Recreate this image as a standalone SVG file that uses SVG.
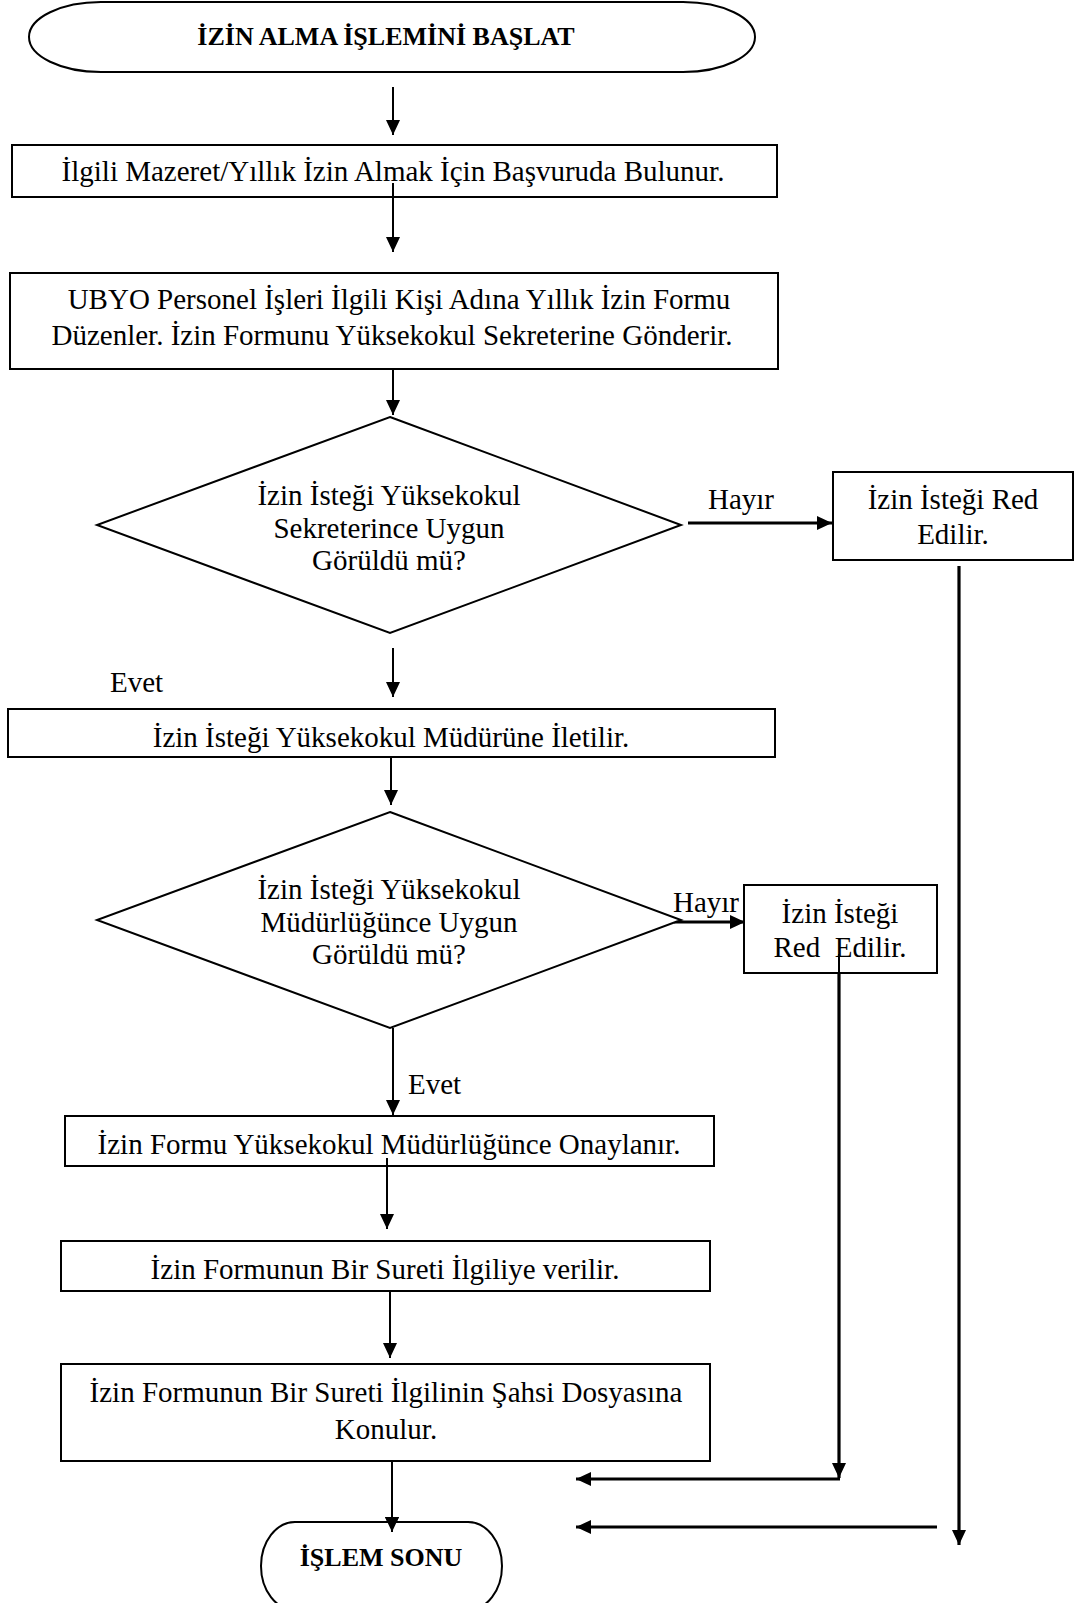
<svg xmlns="http://www.w3.org/2000/svg" width="1083" height="1603" viewBox="0 0 1083 1603">
  <style>
    .shape { fill: #fff; stroke: #000; stroke-width: 2; }
    .txt { font-family: "Liberation Serif", "Times New Roman", serif; font-size: 29px; fill: #000; text-anchor: middle; }
    .lbl { font-family: "Liberation Serif", "Times New Roman", serif; font-size: 29px; fill: #000; }
    .bold { font-family: "Liberation Serif", "Times New Roman", serif; font-size: 26px; font-weight: bold; fill: #000; text-anchor: middle; }
    .conn { fill: none; stroke: #000; stroke-width: 2; marker-end: url(#arrow); }
    .thick { fill: none; stroke: #000; stroke-width: 3.2; marker-end: url(#arrow); }
    .plain { fill: none; stroke: #000; stroke-width: 2; }
  </style>
  <defs>
    <marker id="arrow" markerUnits="userSpaceOnUse" markerWidth="16" markerHeight="14" refX="15" refY="7" orient="auto">
      <path d="M0,0 L15,7 L0,14 z" fill="#000"/>
    </marker>
  </defs>
  <rect width="1083" height="1603" fill="#fff"/>

  <g id="connectors">
    <line class="conn" x1="393" y1="87" x2="393" y2="135"/>
    <line class="conn" x1="393" y1="183" x2="393" y2="252"/>
    <line class="conn" x1="393" y1="368" x2="393" y2="415"/>
    <line class="thick" x1="688" y1="523" x2="832" y2="523"/>
    <line class="conn" x1="393" y1="648" x2="393" y2="697"/>
    <line class="conn" x1="391" y1="757" x2="391" y2="805"/>
    <line class="thick" x1="674" y1="922" x2="745" y2="922"/>
    <line class="conn" x1="393" y1="1028" x2="393" y2="1115"/>
    <line class="conn" x1="387" y1="1158" x2="387" y2="1229"/>
    <line class="conn" x1="390" y1="1287" x2="390" y2="1358"/>
    <line class="conn" x1="392" y1="1459" x2="392" y2="1532"/>
    <line class="thick" x1="959" y1="566" x2="959" y2="1545"/>
    <line class="thick" x1="839" y1="954" x2="839" y2="1478"/>
    <line class="thick" x1="840" y1="1479" x2="576" y2="1479"/>
    <line class="thick" x1="937" y1="1527" x2="576" y2="1527"/>
  </g>

  <g id="start">
    <rect class="shape" x="29" y="2" width="726" height="70" rx="72" ry="35"/>
    <text class="bold" x="386" y="45">İZİN ALMA İŞLEMİNİ BAŞLAT</text>
  </g>

  <g id="apply">
    <rect class="shape" x="12" y="145" width="765" height="52"/>
    <text class="txt" x="393" y="181">İlgili Mazeret/Yıllık İzin Almak İçin Başvuruda Bulunur.</text>
  </g>
  <line class="plain" x1="393" y1="183" x2="393" y2="197"/>

  <g id="prepare-form">
    <rect class="shape" x="10" y="273" width="768" height="96"/>
    <text class="txt" x="399" y="309">UBYO Personel İşleri İlgili Kişi Adına Yıllık İzin Formu</text>
    <text class="txt" x="392" y="345">Düzenler. İzin Formunu Yüksekokul Sekreterine Gönderir.</text>
  </g>

  <g id="secretary-decision">
    <polygon class="shape" points="390,417 681,525 390,633 97,525"/>
    <text class="txt" x="389" y="505">İzin İsteği Yüksekokul</text>
    <text class="txt" x="389" y="538">Sekreterince Uygun</text>
    <text class="txt" x="389" y="570">Görüldü mü?</text>
  </g>
  <text class="lbl" x="708" y="509">Hayır</text>

  <g id="reject-1">
    <rect class="shape" x="833" y="472" width="240" height="88"/>
    <text class="txt" x="953" y="509">İzin İsteği Red</text>
    <text class="txt" x="953" y="544">Edilir.</text>
  </g>

  <text class="lbl" x="110" y="692">Evet</text>

  <g id="forward-director">
    <rect class="shape" x="8" y="709" width="767" height="48"/>
    <text class="txt" x="391" y="747">İzin İsteği Yüksekokul Müdürüne İletilir.</text>
  </g>

  <g id="director-decision">
    <polygon class="shape" points="390,812 681,920 390,1028 97,920"/>
    <text class="txt" x="389" y="899">İzin İsteği Yüksekokul</text>
    <text class="txt" x="389" y="932">Müdürlüğünce Uygun</text>
    <text class="txt" x="389" y="964">Görüldü mü?</text>
  </g>
  <text class="lbl" x="673" y="912">Hayır</text>

  <g id="reject-2">
    <rect class="shape" x="744" y="885" width="193" height="88"/>
    <text class="txt" x="840" y="923">İzin İsteği</text>
    <text class="txt" x="840" y="957" xml:space="preserve">Red  Edilir.</text>
  </g>
  <line class="plain" x1="839" y1="954" x2="839" y2="973"/>

  <text class="lbl" x="408" y="1094">Evet</text>

  <g id="approve">
    <rect class="shape" x="65" y="1116" width="649" height="50"/>
    <text class="txt" x="389" y="1154">İzin Formu Yüksekokul Müdürlüğünce Onaylanır.</text>
  </g>
  <line class="plain" x1="387" y1="1158" x2="387" y2="1166"/>

  <g id="copy-person">
    <rect class="shape" x="61" y="1241" width="649" height="50"/>
    <text class="txt" x="385" y="1279">İzin Formunun Bir Sureti İlgiliye verilir.</text>
  </g>

  <g id="copy-file">
    <rect class="shape" x="61" y="1364" width="649" height="97"/>
    <text class="txt" x="386" y="1402">İzin Formunun Bir Sureti İlgilinin Şahsi Dosyasına</text>
    <text class="txt" x="386" y="1439">Konulur.</text>
  </g>

  <g id="end">
    <rect class="shape" x="261" y="1522" width="241" height="88" rx="34" ry="44"/>
    <text class="bold" x="381" y="1566">İŞLEM SONU</text>
  </g>
  <line class="conn" x1="392" y1="1505" x2="392" y2="1532"/>
</svg>
